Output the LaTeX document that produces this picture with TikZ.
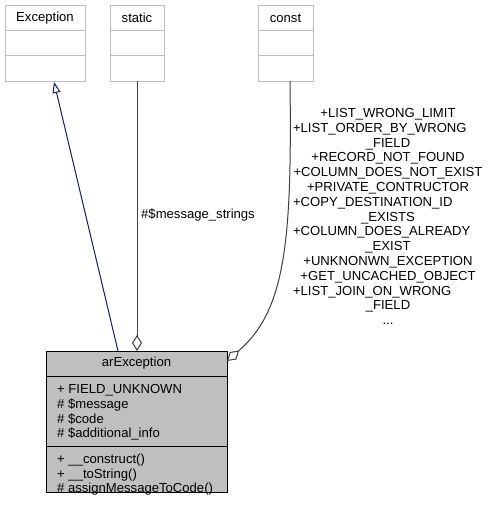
\documentclass[tikz,border=0pt]{standalone}
\usepackage{fontspec}
\setmainfont{Liberation Sans}
\usetikzlibrary{arrows.meta}
\definecolor{edgegray}{HTML}{404040}
\definecolor{boxgray}{HTML}{BFBFBF}
\definecolor{lightborder}{HTML}{BFBFBF}
\definecolor{navyline}{HTML}{191970}
\newcommand{\lline}[1]{\makebox[\linewidth][l]{#1}}
\begin{document}
\begin{tikzpicture}[x=1bp,y={(0bp,-1bp)},
  font=\fontsize{13.1bp}{15bp}\selectfont,
  umlbox/.style={draw=lightborder, fill=white, line width=1bp, minimum width=#1, minimum height=76bp, inner sep=0pt, anchor=north west},
  sepline/.style={draw=lightborder, line width=1bp},
  title/.style={inner sep=0pt, anchor=center},
  member/.style={inner sep=0pt, anchor=base west},
  aggr/.style={draw=edgegray, line width=1bp, -{Diamond[open, length=16bp, width=10bp]}},
  inherit/.style={draw=navyline, line width=1bp, -{Triangle[open, length=11bp, width=8bp]}},
  lbl/.style={inner sep=0pt, align=center, text width=190bp, font=\fontsize{13.1bp}{14.8bp}\selectfont}
]
\useasboundingbox (0,0) rectangle (491,507);

% top boxes
\node[umlbox=80bp] (exc) at (5,5) {};
\draw[sepline] (5,31) -- (85,31);
\draw[sepline] (5,56) -- (85,56);
\node[title] (exct) at (45,18) {Exception};

\node[umlbox=54bp] (sta) at (110,5) {};
\draw[sepline] (110,31) -- (164,31);
\draw[sepline] (110,56) -- (164,56);
\node[title] (stat) at (137,18) {static};

\node[umlbox=55bp] (con) at (258,5) {};
\draw[sepline] (258,31) -- (313,31);
\draw[sepline] (258,56) -- (313,56);
\node[title] (cont) at (285.5,18) {const};

% arException
\node[draw=black, fill=boxgray, line width=1bp, minimum width=181bp, minimum height=141bp, inner sep=0pt, anchor=north west] (ar) at (46,351) {};
\draw[black, line width=1bp] (46,376) -- (227,376);
\draw[black, line width=1bp] (46,446) -- (227,446);
\node[title] (art) at (136.5,363.5) {arException};
\node[member] (m1) at (57,393) {+ FIELD\_UNKNOWN};
\node[member] (m2) at (57,408) {\# \$message};
\node[member] (m3) at (57,423) {\# \$code};
\node[member] (m4) at (57,437) {\# \$additional\_info};
\node[member] (f1) at (57,463) {+ \_\_construct()};
\node[member] (f2) at (57,478) {+ \_\_toString()};
\node[member] (f3) at (57,492) {\# assignMessageToCode()};

% connector endpoints
\coordinate (inhS) at (118,351);
\coordinate (inhE) at (54,82);
\coordinate (stS) at (137,81);
\coordinate (stE) at (137,351);
\coordinate (coS) at (290,81);
\coordinate (coE) at (227,361);

\draw[inherit] (inhS) -- (inhE);
\draw[aggr] (stS) -- (stE);
\draw[aggr] (coS) .. controls (292,240) and (286,310) .. (coE);

\node[inner sep=0pt, anchor=west] (msl) at (141,215) {\#\$message\_strings};
\node[lbl] (cl) at (388,216.5) {+LIST\_WRONG\_LIMIT\\\lline{+LIST\_ORDER\_BY\_WRONG}\\\_FIELD\\+RECORD\_NOT\_FOUND\\+COLUMN\_DOES\_NOT\_EXIST\\+PRIVATE\_CONTRUCTOR\\\lline{+COPY\_DESTINATION\_ID}\\\_EXISTS\\\lline{+COLUMN\_DOES\_ALREADY}\\\_EXIST\\+UNKNONWN\_EXCEPTION\\+GET\_UNCACHED\_OBJECT\\\lline{+LIST\_JOIN\_ON\_WRONG}\\\_FIELD\\...};
\end{tikzpicture}
\end{document}
